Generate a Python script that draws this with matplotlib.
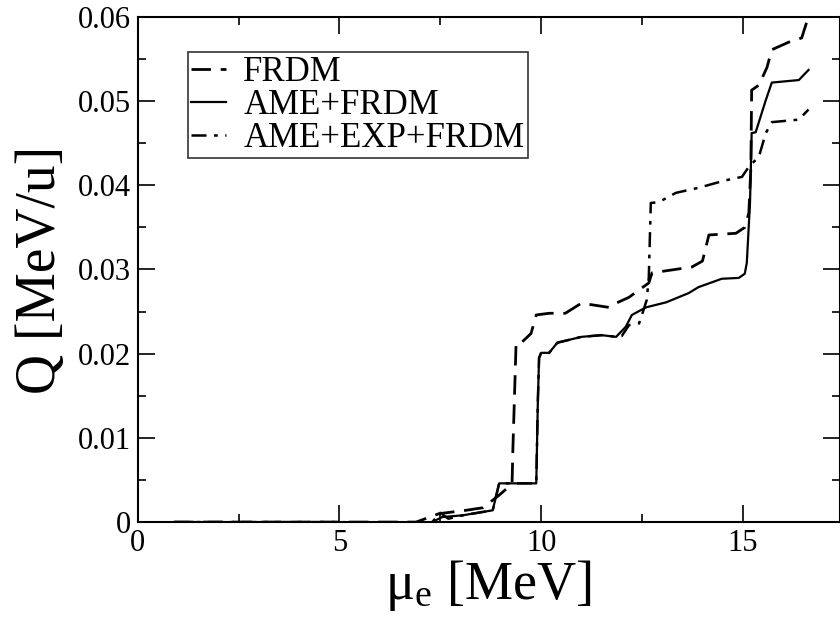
import matplotlib
matplotlib.use('Agg')
import matplotlib.pyplot as plt
from matplotlib.ticker import MultipleLocator

# Data (mu_e in MeV, Q in MeV/u)
frdm_x = [0.9, 5.0, 6.9, 7.47, 8.14, 8.55, 8.8, 8.96, 9.2, 9.28, 9.3, 9.38, 9.53, 9.75, 9.88,
          10.2, 10.6, 11.0, 11.68, 11.86, 12.18, 12.35, 12.67, 12.75, 13.74, 14.0, 14.16,
          14.83, 15.05, 15.15, 15.2, 15.22, 15.4, 15.6, 15.72, 16.14, 16.46, 16.58]
frdm_y = [0.0, 0.0, 0.0, 0.001, 0.0014, 0.0017, 0.0026, 0.0032, 0.0042, 0.0046, 0.0086, 0.0213,
          0.0214, 0.0224, 0.0246, 0.0248, 0.0248, 0.026, 0.0255, 0.026, 0.0267, 0.0273,
          0.0284, 0.0296, 0.0303, 0.031, 0.0341, 0.0343, 0.035, 0.0367, 0.042, 0.0513,
          0.0519, 0.054, 0.0561, 0.057, 0.0575, 0.0593]

ame_x = [0.9, 5.0, 5.8, 6.5, 7.3, 7.55, 8.05, 8.8, 8.96, 9.5, 9.88, 9.92, 9.95, 10.0, 10.2,
         10.4, 11.0, 11.5, 11.86, 12.1, 12.25, 12.6, 13.1, 13.66, 13.9, 14.48, 14.9, 15.05,
         15.1, 15.18, 15.22, 15.32, 15.57, 15.72, 16.39, 16.63]
ame_y = [0.0, 0.0, -0.0001, -0.0001, 0.0, 0.0006, 0.0008, 0.0014, 0.0046, 0.0046, 0.0046, 0.0145,
         0.0195, 0.0201, 0.0201, 0.0213, 0.022, 0.0222, 0.022, 0.0232, 0.0246, 0.0255, 0.0261,
         0.0272, 0.0279, 0.0289, 0.029, 0.0295, 0.0308, 0.038, 0.0462, 0.0463, 0.0501, 0.0522,
         0.0525, 0.0537]

exp_x = [0.9, 5.0, 5.8, 6.5, 7.3, 7.5, 7.7, 8.05, 8.8, 8.96, 9.5, 9.88, 9.92, 9.95, 10.0, 10.2,
         10.4, 11.0, 11.5, 11.86, 12.0, 12.18, 12.43, 12.5, 12.62, 12.67, 12.72, 12.92, 13.34,
         13.9, 14.58, 14.98, 15.15, 15.4, 15.57, 15.72, 16.39, 16.63]
exp_y = [0.0, 0.0, -0.0001, -0.0001, 0.0, 0.0011, 0.0004, 0.0008, 0.0014, 0.0046, 0.0046, 0.0046,
         0.0145, 0.0195, 0.0201, 0.0201, 0.0213, 0.022, 0.0222, 0.022, 0.0221, 0.0234, 0.0236,
         0.0246, 0.0264, 0.0291, 0.0379, 0.038, 0.0391, 0.0397, 0.0406, 0.041, 0.0422, 0.0434,
         0.0462, 0.0475, 0.0478, 0.049]

xticks = [0, 5, 10, 15]
yticks = [0, 0.01, 0.02, 0.03, 0.04, 0.05, 0.06]
yticklabels = ['0', '0.01', '0.02', '0.03', '0.04', '0.05', '0.06']

plt.rcParams['font.family'] = ['Liberation Serif', 'DejaVu Serif']
plt.rcParams['mathtext.fontset'] = 'stix'

fig = plt.figure(figsize=(8.4, 6.26), dpi=100)
ax = fig.add_axes([0.164, 0.166, 0.8355, 0.807])

ax.plot(frdm_x, frdm_y, color='black', lw=2, dashes=(7, 3.5), label='FRDM')
ax.plot(ame_x, ame_y, color='black', lw=1.6, label='AME+FRDM')
ax.plot(exp_x, exp_y, color='black', lw=1.8, dashes=(6, 3, 1.5, 3), label='AME+EXP+FRDM')

ax.set_xlim(0, 17.4)
ax.set_ylim(0, 0.06)
ax.set_xticks(xticks)
ax.set_yticks(yticks)
ax.set_yticklabels(yticklabels)
ax.xaxis.set_minor_locator(MultipleLocator(2.5))
ax.yaxis.set_minor_locator(MultipleLocator(0.005))
ax.tick_params(which='both', direction='in', top=True, right=True, labelsize=22, width=1.2)
ax.tick_params(which='major', length=12, pad=5)
ax.tick_params(which='minor', length=6)
for s in ax.spines.values():
    s.set_linewidth(1.5)

ax.set_xlabel(r'$\mathregular{\mu_e}$ [MeV]', fontsize=39, labelpad=0)
ax.set_ylabel('Q [MeV/u]', fontsize=40, labelpad=8)

leg = ax.legend(loc='upper left', bbox_to_anchor=(0.071, 0.93), fontsize=25, frameon=True,
                fancybox=False, edgecolor='black', handlelength=1.0, handletextpad=0.5,
                labelspacing=0.0, borderpad=0.1, borderaxespad=0)
leg.get_frame().set_linewidth(1.2)

fig.savefig('out.png', dpi=100)
